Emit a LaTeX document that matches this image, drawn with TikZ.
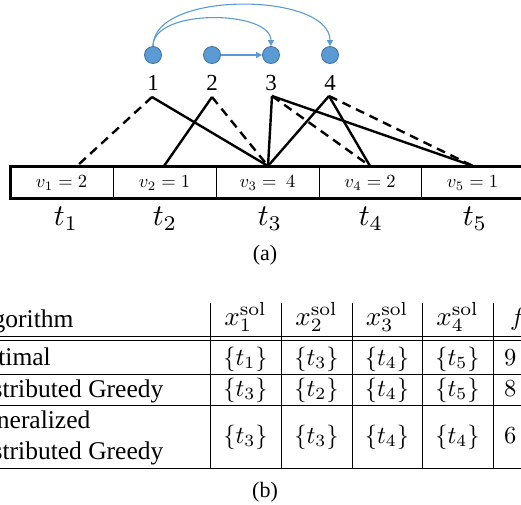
\RequirePackage{fix-cm}
\documentclass[tikz,border=0pt]{standalone}
\usepackage{graphicx}
\usepackage[no-math]{fontspec}
\setmainfont{Liberation Serif}
\usetikzlibrary{arrows.meta}
\definecolor{agentblue}{HTML}{5B9BD5}
\definecolor{agentedge}{HTML}{41719C}
\definecolor{arrowblue}{HTML}{5B9BD5}
\newcommand{\smath}[2]{\scalebox{#1}{\fontsize{10}{12}\selectfont$#2$}}
\tikzset{
  agent/.style={circle, fill=agentblue, draw=agentedge, line width=0.8pt, minimum size=17pt, inner sep=0pt},
  barrow/.style={draw=arrowblue, line width=1.1pt, -{Triangle[length=6pt,width=6pt]}},
  link/.style={line width=2.4pt},
  dlink/.style={line width=2.4pt, dash pattern=on 9pt off 6pt},
  numlab/.style={font=\fontsize{23}{27}\selectfont, inner sep=0pt},
  celltext/.style={inner sep=0pt},
  tlab/.style={inner sep=0pt},
  captext/.style={font=\fontsize{22}{26}\selectfont, inner sep=0pt},
  tabtext/.style={font=\fontsize{25.5}{29}\selectfont, inner sep=0pt, anchor=base west},
  tabmath/.style={inner sep=0pt, anchor=base},
  tabnum/.style={inner sep=0pt, anchor=base west},
  rule/.style={line width=1pt},
}
\begin{document}
\begin{tikzpicture}[x=1pt,y=-1pt]
\useasboundingbox (0,0) rectangle (521,504);
\clip (0,0) rectangle (521,504);
% agents
\node[agent] (c1) at (153,55) {};
\node[agent] (c2) at (212,55) {};
\node[agent] (c3) at (271,55) {};
\node[agent] (c4) at (330,55) {};
\draw[barrow] (c1.north) .. controls (153,8) and (271,10) .. (c3.north);
\draw[barrow] (c1.north) .. controls (153,-10) and (330,-8) .. (c4.north);
\draw[barrow] (c2.east) -- (c3.west);
% agent numbers
\node[numlab] (n1) at (153,83) {1};
\node[numlab] (n2) at (212,83) {2};
\node[numlab] (n3) at (271,83) {3};
\node[numlab] (n4) at (330,83) {4};
\coordinate (a1) at (152,97);
\coordinate (a2) at (212,97);
\coordinate (a3) at (272,96);
\coordinate (a4) at (329,96);
% task bar
\coordinate (b1) at (77,166);
\coordinate (b2) at (164,166);
\coordinate (b3) at (268,166);
\coordinate (b4) at (370,166);
\coordinate (b5) at (473,166);
\foreach \x in {113,216,319,421}{\draw[line width=1pt] (\x,166) -- (\x,198);}
\draw[line width=3pt] (10,166) rectangle (530,198);
\node[celltext] (v1) at (61.5,183) {\smath{1.85}{v_1 = 2}};
\node[celltext] (v2) at (164.5,183) {\smath{1.85}{v_2 = 1}};
\node[celltext] (v3) at (267.5,183) {\smath{1.85}{v_3 = \ 4}};
\node[celltext] (v4) at (370,183) {\smath{1.85}{v_4 = 2}};
\node[celltext] (v5) at (472.5,183) {\smath{1.85}{v_5 = 1}};
\node[tlab] (t1) at (66,219) {\smath{3}{t_1}};
\node[tlab] (t2) at (165,219) {\smath{3}{t_2}};
\node[tlab] (t3) at (270,219) {\smath{3}{t_3}};
\node[tlab] (t4) at (371,219) {\smath{3}{t_4}};
\node[tlab] (t5) at (475,219) {\smath{3}{t_5}};
% links
\draw[dlink] (a1) -- (b1);
\draw[link] (a1) -- (b3);
\draw[link] (a2) -- (b2);
\draw[dlink] (a2) -- (b3);
\draw[link] (a3) -- (b3);
\draw[dlink] (a3) -- (b4);
\draw[link] (a3) -- (b5);
\draw[link] (a4) -- (b3);
\draw[link] (a4) -- (b4);
\draw[dlink] (a4) -- (b5);
\node[captext] (capa) at (265,255) {(a)};
% table
\foreach \x in {210,281,352,422,493}{\draw[rule] (\x,303) -- (\x,468);}
\foreach \y in {336,340,374,405,468}{\draw[rule] (-5,\y) -- (530,\y);}
\node[tabtext] (h0) at (-33,327) {Algorithm};
\node[tabmath] (h1) at (245.5,325) {\smath{2.7}{x_1^{\mathrm{sol}}}};
\node[tabmath] (h2) at (316.5,325) {\smath{2.7}{x_2^{\mathrm{sol}}}};
\node[tabmath] (h3) at (387,325) {\smath{2.7}{x_3^{\mathrm{sol}}}};
\node[tabmath] (h4) at (457.5,325) {\smath{2.7}{x_4^{\mathrm{sol}}}};
\node[tabnum] (h5) at (510,325) {\smath{2.5}{f}};
\node[tabtext] (r1) at (-33,365) {Optimal};
\node[tabmath] (r1a) at (245.5,365) {\smath{2.45}{\{t_1\}}};
\node[tabmath] (r1b) at (316.5,365) {\smath{2.45}{\{t_3\}}};
\node[tabmath] (r1c) at (387,365) {\smath{2.45}{\{t_4\}}};
\node[tabmath] (r1d) at (457.5,365) {\smath{2.45}{\{t_5\}}};
\node[tabnum] (r1e) at (504,365) {\smath{2.45}{9}};
\node[tabtext] (r2) at (-33,397) {Distributed Greedy};
\node[tabmath] (r2a) at (245.5,396) {\smath{2.45}{\{t_3\}}};
\node[tabmath] (r2b) at (316.5,396) {\smath{2.45}{\{t_2\}}};
\node[tabmath] (r2c) at (387,396) {\smath{2.45}{\{t_4\}}};
\node[tabmath] (r2d) at (457.5,396) {\smath{2.45}{\{t_5\}}};
\node[tabnum] (r2e) at (504,396) {\smath{2.45}{8}};
\node[tabtext] (r3) at (-33,428) {Generalized};
\node[tabtext] (r3x) at (-33,459) {Distributed Greedy};
\node[tabmath] (r3a) at (245.5,443) {\smath{2.45}{\{t_3\}}};
\node[tabmath] (r3b) at (316.5,443) {\smath{2.45}{\{t_3\}}};
\node[tabmath] (r3c) at (387,443) {\smath{2.45}{\{t_4\}}};
\node[tabmath] (r3d) at (457.5,443) {\smath{2.45}{\{t_4\}}};
\node[tabnum] (r3e) at (504,443) {\smath{2.45}{6}};
\node[captext] (capb) at (265,492) {(b)};
\end{tikzpicture}
\end{document}
